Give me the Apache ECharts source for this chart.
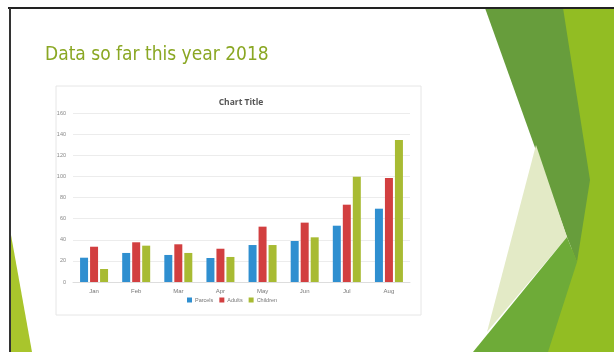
<!DOCTYPE html>
<html><head><meta charset="utf-8">
<script src="https://cdn.jsdelivr.net/npm/echarts@6/dist/echarts.min.js"></script>
<style>html,body{margin:0;padding:0;background:#fff;}#c{width:614px;height:352px;}</style>
</head><body><div id="c"></div>
<script>
const categories = ['Jan','Feb','Mar','Apr','May','Jun','Jul','Aug'];
const parcels  = [23, 27.5, 25.6, 22.7, 35, 38.8, 53.3, 69.4];
const adults   = [33.4, 37.6, 35.7, 31.5, 52.4, 56.2, 73.2, 98.5];
const children = [12.3, 34.4, 27.5, 23.7, 35, 42.3, 99.7, 134.5];
const seriesNames = ['Parcels','Adults','Children'];
const slideTitle = 'Data so far this year 2018';
const chartTitle = 'Chart Title';

const chart = echarts.init(document.getElementById('c'), null, {renderer:'canvas'});
const colors = ['#2f8fd0','#d23f40','#a8bb33'];
function poly(points, fill, z){ return {type:'polygon', shape:{points}, style:{fill}, z:z||0, silent:true}; }
chart.setOption({
  animation:false,
  color: colors,
  graphic:[
    poly([[560,8],[614,8],[614,352],[528,352],[572,255]], '#92bd23', 1),
    poly([[485,8],[563,8],[590,180],[577,262],[567,237]], '#679d3c', 2),
    poly([[536,145],[567,237],[487,332]], '#e3eac6', 2),
    poly([[567,237],[577,262],[548,352],[473,352]], '#6eab38', 3),
    poly([[11,235],[11,352],[32,352]], '#a9c52c', 2),
    {type:'rect', shape:{x:56,y:86,width:365,height:229}, style:{fill:'none', stroke:'#e6e6e6', lineWidth:1}, z:0, silent:true},
    {type:'line', shape:{x1:8,y1:8,x2:614,y2:8}, style:{stroke:'#222', lineWidth:2}, z:5, silent:true},
    {type:'line', shape:{x1:10,y1:8,x2:10,y2:352}, style:{stroke:'#333', lineWidth:2}, z:5, silent:true},
    {type:'text', left:45, top:46, style:{text:slideTitle, fill:'#8aa723', font:'19px "DejaVu Sans Condensed", "DejaVu Sans", sans-serif'}, z:5}
  ],
  title:{text:chartTitle, left:236, top:93, textAlign:'center',
    textStyle:{fontSize:8.5, fontWeight:'bold', color:'#555', fontFamily:'Open Sans'}},
  legend:{data:seriesNames, bottom:44, left:182, itemWidth:5, itemHeight:5, itemGap:6,
    icon:'rect', textStyle:{fontSize:5.5, color:'#777', padding:[0,0,0,-2]}},
  grid:{left:73, right:204, top:113, bottom:70, containLabel:false},
  xAxis:{type:'category', data:categories,
    axisLine:{lineStyle:{color:'#ddd'}}, axisTick:{show:false},
    axisLabel:{fontSize:6, color:'#777', margin:6}},
  yAxis:{type:'value', min:0, max:160, interval:20,
    axisLine:{show:false}, axisTick:{show:false},
    axisLabel:{fontSize:5.5, color:'#888', margin:7},
    splitLine:{lineStyle:{color:'#ececec'}}},
  series:[
    {name:seriesNames[0], type:'bar', data:parcels, barWidth:8, barGap:'25%'},
    {name:seriesNames[1], type:'bar', data:adults, barWidth:8, barGap:'25%'},
    {name:seriesNames[2], type:'bar', data:children, barWidth:8, barGap:'25%'}
  ]
});
</script></body></html>
